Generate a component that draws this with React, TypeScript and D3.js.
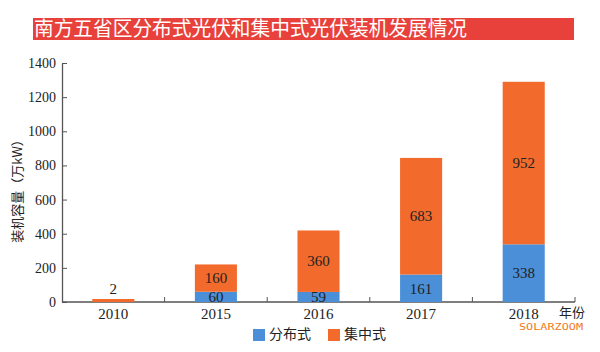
import React, { useEffect, useRef } from "react";
import * as d3 from "d3";

const years = ["2010", "2015", "2016", "2017", "2018"];
const distributed = [0, 60, 59, 161, 338];
const centralized = [2, 160, 360, 683, 952];
const yTicks = [0, 200, 400, 600, 800, 1000, 1200, 1400];
const seriesNames = ["分布式", "集中式"];

const BLUE = "#4b8fd8";
const ORANGE = "#f26b2c";
const SERIF = "'Liberation Serif', 'Noto Sans CJK SC', serif";
const CJK = "'Noto Sans CJK SC', sans-serif";

export default function App() {
  const svgRef = useRef<SVGSVGElement>(null);

  useEffect(() => {
    const w = 600;
    const h = 352;
    const svg = d3.select(svgRef.current);
    svg.selectAll("*").remove();
    svg.attr("width", w).attr("height", h).style("background", "#fff");

    // title bar
    svg.append("rect").attr("x", 33).attr("y", 18).attr("width", 541).attr("height", 22).attr("fill", "#e8413b");
    svg
      .append("text")
      .attr("x", 34)
      .attr("y", 36)
      .attr("fill", "#fff")
      .attr("font-family", CJK)
      .attr("font-size", 20)
      .attr("textLength", 433)
      .attr("lengthAdjust", "spacingAndGlyphs")
      .text("南方五省区分布式光伏和集中式光伏装机发展情况");

    const x0 = 62;
    const x1 = 575;
    const xScale = d3.scaleBand().domain(years).range([x0, x1]).paddingInner(0.59).paddingOuter(0.295);
    const yScale = d3.scaleLinear().domain([0, 1400]).range([302, 63]);

    // y axis
    const yAxis = svg.append("g").attr("transform", `translate(${x0},0)`).call(
      d3.axisLeft(yScale).tickValues(yTicks).tickFormat(d3.format("d")).tickSizeInner(-5).tickSizeOuter(0).tickPadding(6)
    );
    yAxis.select(".domain").attr("stroke", "#555").attr("stroke-width", 1.3);
    yAxis.selectAll("line").attr("stroke", "#555");
    yAxis.selectAll("text").attr("font-family", SERIF).attr("font-size", 14).attr("fill", "#222");

    // x axis
    const bw = xScale.step();
    const xg = svg.append("g").attr("transform", `translate(0,${yScale(0)})`);
    xg.append("line").attr("x1", x0).attr("x2", x1).attr("stroke", "#555").attr("stroke-width", 1.3);
    years.forEach((y, i) => {
      const bx = x0 + bw * (i + 1);
      xg.append("line").attr("x1", bx).attr("x2", bx).attr("y1", 0).attr("y2", -5).attr("stroke", "#555");
      xg.append("text")
        .attr("x", (xScale(y) as number) + xScale.bandwidth() / 2)
        .attr("y", 17)
        .attr("text-anchor", "middle")
        .attr("font-family", SERIF)
        .attr("font-size", 15)
        .attr("fill", "#222")
        .text(y);
    });

    // bars
    years.forEach((y, i) => {
      const bx = xScale(y) as number;
      const bwid = xScale.bandwidth();
      const d = distributed[i];
      const c = centralized[i];
      if (d > 0) {
        svg.append("rect").attr("x", bx).attr("width", bwid).attr("y", yScale(d)).attr("height", yScale(0) - yScale(d)).attr("fill", BLUE);
      }
      const top = yScale(d + c);
      const hgt = Math.max(yScale(d) - top, 3);
      svg.append("rect").attr("x", bx).attr("width", bwid).attr("y", yScale(d) - hgt).attr("height", hgt).attr("fill", ORANGE);

      const cx = bx + bwid / 2;
      const label = (v: number, yy: number) =>
        svg
          .append("text")
          .attr("x", cx)
          .attr("y", yy)
          .attr("dy", "0.35em")
          .attr("text-anchor", "middle")
          .attr("font-family", SERIF)
          .attr("font-size", 15)
          .attr("fill", "#222")
          .text(v);
      if (d > 0) label(d, yScale(d / 2));
      if (c < 20) label(c, yScale(d) - hgt - 10);
      else label(c, yScale(d + c / 2));
    });

    // axis titles
    svg
      .append("text")
      .attr("transform", `translate(22,188) rotate(-90)`)
      .attr("text-anchor", "middle")
      .attr("font-family", CJK)
      .attr("font-size", 13)
      .attr("fill", "#222")
      .text("装机容量（万kW）");
    svg
      .append("text")
      .attr("x", 559)
      .attr("y", 317)
      .attr("font-family", CJK)
      .attr("font-size", 13)
      .attr("fill", "#222")
      .text("年份");

    // legend
    const colors = [BLUE, ORANGE];
    const lx = [253, 328];
    seriesNames.forEach((n, i) => {
      svg.append("rect").attr("x", lx[i]).attr("y", 329).attr("width", 12).attr("height", 12).attr("fill", colors[i]);
      svg
        .append("text")
        .attr("x", lx[i] + 16)
        .attr("y", 339)
        .attr("font-family", CJK)
        .attr("font-size", 14)
        .attr("fill", "#222")
        .text(n);
    });

    svg
      .append("text")
      .attr("x", 519)
      .attr("y", 330)
      .attr("font-family", "'DejaVu Sans Mono', monospace")
      .attr("font-size", 9.5)
      .attr("textLength", 64)
      .attr("lengthAdjust", "spacingAndGlyphs")
      .attr("fill", "#f07a22")
      .text("SOLARZOOM");
  }, []);

  return (
    <div style={{ position: "absolute", left: 0, top: 0 }}>
      <svg ref={svgRef}></svg>
    </div>
  );
}
